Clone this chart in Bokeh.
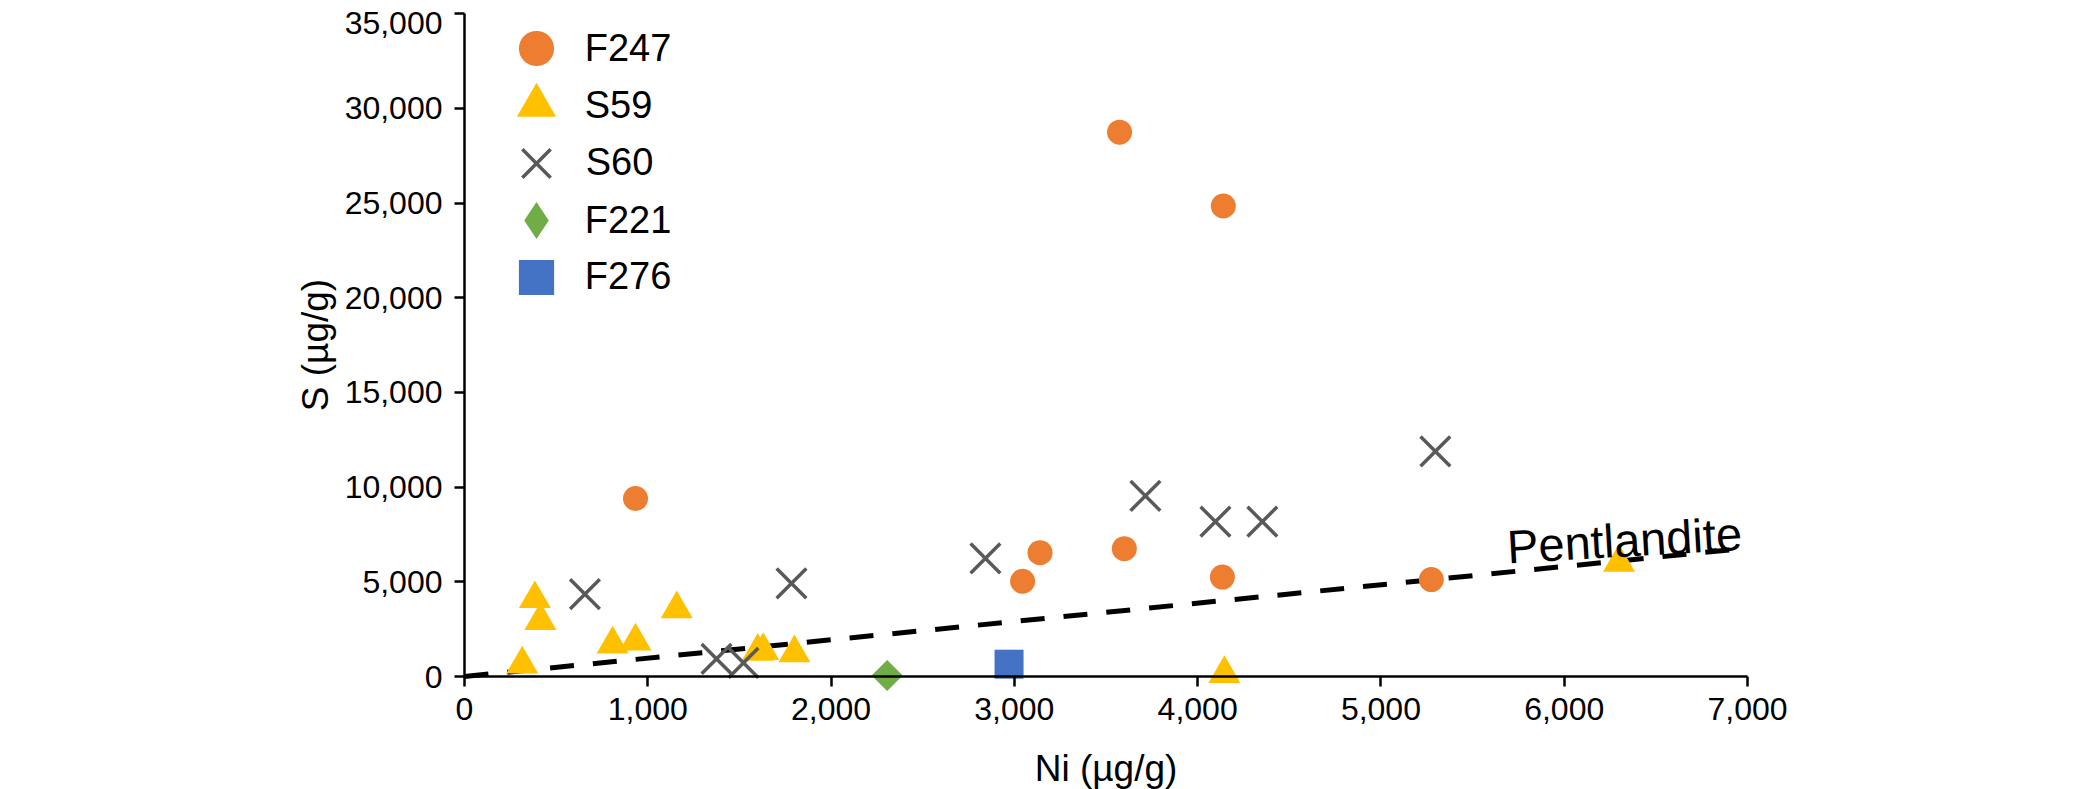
from bokeh.plotting import figure
from bokeh.models import Range1d, FixedTicker, NumeralTickFormatter, Legend, LegendItem, Label
from bokeh.embed import file_html
from bokeh.resources import INLINE
import math

# ---------------- data ----------------
x_ticks = [0, 1000, 2000, 3000, 4000, 5000, 6000, 7000]
y_ticks = [0, 5000, 10000, 15000, 20000, 25000, 30000, 35000]

f247_ni = [933, 3045, 3140, 3574, 3600, 4135, 4140, 5275]
f247_s = [9400, 5030, 6540, 28750, 6750, 5250, 24850, 5120]

s59_ni = [315, 384, 414, 808, 933, 1158, 1600, 1630, 1800, 4146, 6299]
s59_s = [650, 4100, 2950, 1700, 1860, 3570, 1320, 1360, 1240, 150, 6025]

s60_ni = [657, 1375, 1522, 1784, 2842, 3715, 4097, 4353, 5297]
s60_s = [4350, 935, 720, 4920, 6240, 9540, 8180, 8180, 11890]

f221_ni = [2306]
f221_s = [50]

f276_ni = [2971]
f276_s = [650]

pent_ni = [0, 7000]
pent_s = [0, 6780]
pent_label = "Pentlandite"
pent_label_ni = 5688
pent_label_s = 6842

FONT = "Liberation Sans"

# ---------------- layout (the frame covers the whole canvas) ----------------
W, H = 1810, 789
X0_PX, X7_PX = 464.0, 1747.0         # page columns of Ni = 0 and Ni = 7000
Y0_PX, Y35_PX = 676.0, 13.3          # page rows of S = 0 and S = 35000
kx = (X7_PX - X0_PX) / 7000.0
ky = (Y0_PX - Y35_PX) / 35000.0
x_lo = -X0_PX / kx
x_hi = 7000 + (W - X7_PX) / kx
y_top = 35000 + Y35_PX / ky
y_bot = -(H - Y0_PX) / ky

p = figure(width=W, height=H, x_range=Range1d(x_lo, x_hi), y_range=Range1d(y_bot, y_top),
           output_backend="svg", toolbar_location=None,
           min_border_left=0, min_border_right=0, min_border_top=0, min_border_bottom=0)
p.outline_line_color = None
p.xgrid.visible = False
p.ygrid.visible = False
p.background_fill_color = "white"
p.border_fill_color = "white"

for ax, ticks in ((p.xaxis[0], x_ticks), (p.yaxis[0], y_ticks)):
    ax.ticker = FixedTicker(ticks=ticks)
    ax.formatter = NumeralTickFormatter(format="0,0")
    ax.fixed_location = 0
    ax.axis_line_color = "black"
    ax.axis_line_width = 2.5
    ax.major_tick_line_color = "black"
    ax.major_tick_line_width = 2.5
    ax.major_tick_out = 10
    ax.major_tick_in = 0
    ax.minor_tick_out = 0
    ax.minor_tick_in = 0
    ax.major_label_text_font = FONT
    ax.major_label_text_font_size = "32px"
    ax.major_label_text_color = "black"
    ax.major_label_standoff = 12
    ax.axis_label_text_font = FONT
    ax.axis_label_text_font_size = "37px"
    ax.axis_label_text_font_style = "normal"
    ax.axis_label_text_color = "black"

p.xaxis.bounds = (0, 7000)
p.xaxis.major_label_standoff = 11
p.xaxis.axis_label = "Ni (µg/g)"
p.xaxis.axis_label_standoff = 25
p.yaxis.bounds = (0, 35000)
p.yaxis.axis_label = "S (µg/g)"
p.yaxis.axis_label_standoff = 6
p.yaxis.major_label_overrides = {35000: ""}

p.add_layout(Label(x=0, y=35000, x_offset=-22, text="35,000",
                   text_align="right", text_baseline="middle", y_offset=-9,
                   text_font=FONT, text_font_size="32px", text_color="black"))

# pentlandite line
p.line(pent_ni, pent_s, line_color="black", line_width=5, line_dash="24 19")
p.add_layout(Label(x=pent_label_ni, y=pent_label_s, text=pent_label, angle=0.058,
                   text_align="left", text_baseline="alphabetic",
                   text_font=FONT, text_font_size="47px", text_color="black"))

r_f247 = p.scatter(f247_ni, f247_s, marker="circle", size=25, fill_color="#ED7D31", line_color=None)
r_s59 = p.scatter(s59_ni, s59_s, marker="triangle", size=32, fill_color="#FFC000", line_color=None)
r_s60 = p.scatter(s60_ni, s60_s, marker="x", size=42, line_color="#595959", line_width=3.5)
# legend-only diamond (1 px, hidden beneath the real marker)
r_f221_leg = p.scatter(f221_ni, f221_s, marker="diamond", size=1, fill_color="#70AD47", line_color=None)
r_f221 = p.scatter(f221_ni, f221_s, marker="square", angle=math.pi / 4, size=22,
                   fill_color="#70AD47", line_color=None)
r_f276 = p.scatter(f276_ni, f276_s, marker="square", size=29, fill_color="#4472C4", line_color=None)

# ---------------- legend (one Legend per entry) ----------------
glyph_cx = 535.7
text_left = 585.0


def add_legend(label, renderer, g, center_y):
    vx = glyph_cx - g / 2
    vy = H - (center_y + g / 2)
    standoff = max(0, int(round(text_left - (glyph_cx + g / 2))))
    leg = Legend(items=[LegendItem(label=label, renderers=[renderer])], location=(vx, vy),
                 glyph_width=g, glyph_height=g, padding=0, margin=0, spacing=0,
                 label_standoff=standoff,
                 label_text_font=FONT, label_text_font_size="38px", label_text_color="black",
                 border_line_color=None, background_fill_alpha=0)
    p.add_layout(leg, "center")


add_legend("F247", r_f247, 88, 48.3)
add_legend("S59", r_s59, 98, 105.3)
add_legend("S60", r_s60, 100, 162.7)
add_legend("F221", r_f221_leg, 92, 220.0)
add_legend("F276", r_f276, 88, 276.7)

open("out.html", "w").write(file_html(p, INLINE))
